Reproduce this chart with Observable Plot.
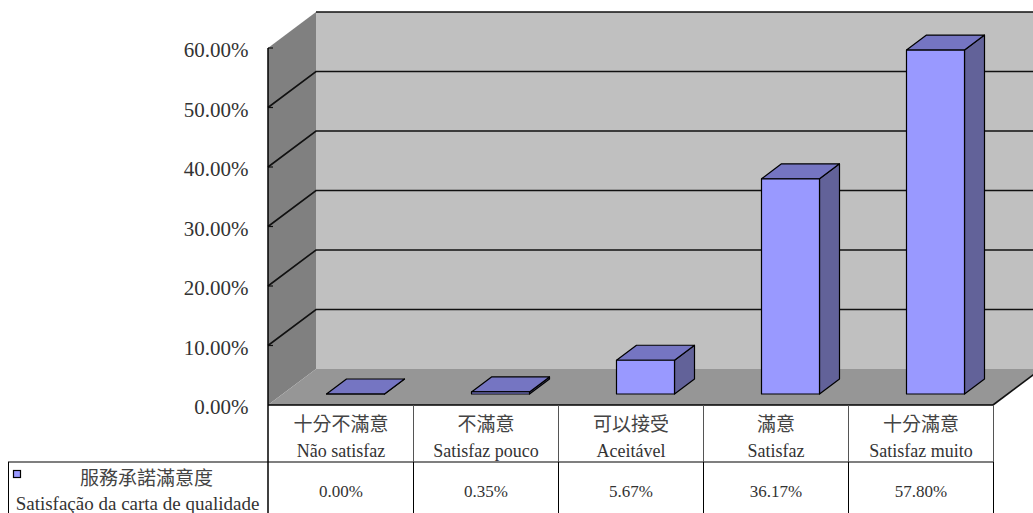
<!DOCTYPE html>
<html>
<head>
<meta charset="utf-8">
<script src="https://cdn.jsdelivr.net/npm/d3@7"></script>
<script src="https://cdn.jsdelivr.net/npm/@observablehq/plot@0.6"></script>
<style>
  html, body { margin: 0; padding: 0; background: #fff; }
</style>
</head>
<body>
<div id="chart"></div>
<script>
// Survey categories (Chinese / Portuguese) and share of answers per category
const categoriesZh = ["十分不滿意", "不滿意", "可以接受", "滿意", "十分滿意"];
const categoriesPt = ["Não satisfaz", "Satisfaz pouco", "Aceitável", "Satisfaz", "Satisfaz muito"];
const shares = [0.0000, 0.0035, 0.0567, 0.3617, 0.5780];
const yTicks = [0, 0.1, 0.2, 0.3, 0.4, 0.5, 0.6];
const seriesZh = "服務承諾滿意度";
const seriesPt = "Satisfação da carta de qualidade";

const rows = categoriesZh.map((zh, i) => ({ zh, pt: categoriesPt[i], value: shares[i] }));
const pct = d3.format(".2%");

// Oblique depth of the 3-D box and the slab in which the bars stand
const DEPTH = [48, -36];
const BAR_FRONT = [15, -11];
const BAR_BACK = [35, -26];
const BAR_FRAC = 0.4;

const SERIF = "'Liberation Serif', 'DejaVu Serif', serif";
const CJK = "'Noto Sans CJK TC', 'Noto Sans CJK SC', sans-serif";

function poly(g, pts, fill, stroke = "none", sw = 0) {
  g.append("path")
    .attr("d", "M" + pts.map(p => p.join(",")).join("L") + "Z")
    .attr("fill", fill)
    .attr("stroke", stroke)
    .attr("stroke-width", sw)
    .attr("stroke-linejoin", "round");
}
function seg(g, pts, stroke, sw) {
  g.append("path")
    .attr("d", "M" + pts.map(p => p.join(",")).join("L"))
    .attr("fill", "none")
    .attr("stroke", stroke)
    .attr("stroke-width", sw);
}
function bandStep(scales) {
  return scales.x(rows[1].zh) - scales.x(rows[0].zh);
}

// Back wall, side wall, floor and gridlines of the 3-D plot area
function walls(index, scales, values, dim) {
  const x0 = dim.marginLeft, x1 = dim.width - dim.marginRight;
  const y0 = scales.y(0), yT = scales.y(yTicks[yTicks.length - 1]);
  const [dx, dy] = DEPTH;
  const g = d3.create("svg:g");
  poly(g, [[x0 + dx, yT + dy], [x1 + dx, yT + dy], [x1 + dx, y0 + dy], [x0 + dx, y0 + dy]], "#c0c0c0");
  poly(g, [[x0, yT], [x0 + dx, yT + dy], [x0 + dx, y0 + dy], [x0, y0]], "#808080");
  poly(g, [[x0, y0], [x1, y0], [x1 + dx, y0 + dy], [x0 + dx, y0 + dy]], "#969696");
  for (const t of yTicks.slice(1)) {
    const y = scales.y(t);
    if (t === yTicks[yTicks.length - 1]) {
      seg(g, [[x0 + dx, y + dy], [x1 + dx, y + dy]], "#111", 1.6);
    } else {
      seg(g, [[x0, y], [x0 + dx, y + dy], [x1 + dx, y + dy]], "#111", 1.6);
    }
    seg(g, [[x0, y], [x0 + 5, y]], "#111", 1.2);
  }
  seg(g, [[x1, y0], [x1 + dx, y0 + dy]], "#111", 1.6);
  return g.node();
}

// Solid 3-D columns: front face, top face, right side face
function columns(index, scales, values, dim) {
  const step = bandStep(scales);
  const w = step * BAR_FRAC;
  const ox = BAR_BACK[0] - BAR_FRONT[0], oy = BAR_BACK[1] - BAR_FRONT[1];
  const g = d3.create("svg:g");
  for (const r of rows) {
    const left = scales.x(r.zh) + (step - w) / 2 + BAR_FRONT[0];
    const right = left + w;
    const base = scales.y(0) + BAR_FRONT[1];
    const top = scales.y(r.value) + BAR_FRONT[1];
    poly(g, [[right, top], [right + ox, top + oy], [right + ox, base + oy], [right, base]], "#626299", "#000", 1.2);
    poly(g, [[left, top], [left + ox, top + oy], [right + ox, top + oy], [right, top]], "#7575c2", "#000", 1.2);
    poly(g, [[left, top], [right, top], [right, base], [left, base]], "#9999ff", "#000", 1.2);
  }
  return g.node();
}

// Data-table grid under the plot, with the legend cell on the left
function tableGrid(index, scales, values, dim) {
  const x0 = dim.marginLeft, x1 = dim.width - dim.marginRight;
  const y0 = scales.y(0), yT = scales.y(yTicks[yTicks.length - 1]);
  const H = dim.height;
  const rowSplit = y0 + 57;
  const g = d3.create("svg:g");
  const step = bandStep(scales);
  seg(g, [[x0, y0], [x1, y0]], "#000", 1.5);
  seg(g, [[8, rowSplit], [x1, rowSplit]], "#000", 1.2);
  for (let i = 1; i <= rows.length; i++) {
    const x = Math.round(x0 + i * step) + 0.5;
    seg(g, [[x, y0], [x, rowSplit]], "#555", 1);
    seg(g, [[x, rowSplit], [x, H]], "#000", 1);
  }
  seg(g, [[x0, yT], [x0, H]], "#000", 1.5);
  seg(g, [[8.5, rowSplit], [8.5, H]], "#000", 1);
  g.append("rect")
    .attr("x", 13.5).attr("y", 470.5).attr("width", 7).attr("height", 7)
    .attr("fill", "#9999ff").attr("stroke", "#000").attr("stroke-width", 1.2);
  return g.node();
}

const chart = Plot.plot({
  width: 1033,
  height: 513,
  marginLeft: 268,
  marginRight: 40,
  marginTop: 48,
  marginBottom: 108,
  style: { background: "#fff", overflow: "visible" },
  x: { type: "band", domain: categoriesZh, padding: 0, align: 0.5, axis: null },
  y: { domain: [0, 0.6], axis: null },
  marks: [
    walls,
    columns,
    tableGrid,
    Plot.text(yTicks, {
      y: d => d, text: d => pct(d), frameAnchor: "left", textAnchor: "end",
      dx: -20, dy: 2, fontSize: 21, fontFamily: SERIF, fill: "#333"
    }),
    Plot.text(rows, {
      x: "zh", text: "zh", frameAnchor: "bottom", dy: 25,
      fontSize: 19, fontFamily: CJK, fill: "#444"
    }),
    Plot.text(rows, {
      x: "zh", text: "pt", frameAnchor: "bottom", dy: 51,
      fontSize: 18, fontFamily: SERIF, fill: "#333"
    }),
    Plot.text(rows, {
      x: "zh", text: d => pct(d.value), frameAnchor: "bottom", dy: 91,
      fontSize: 17, fontFamily: SERIF, fill: "#333"
    }),
    Plot.text([seriesZh], {
      text: d => d, frameAnchor: "bottom-left", textAnchor: "middle", dx: -122, dy: 79,
      fontSize: 19, fontFamily: CJK, fill: "#444"
    }),
    Plot.text([seriesPt], {
      text: d => d, frameAnchor: "bottom-left", textAnchor: "middle", dx: -131, dy: 104,
      fontSize: 19, fontFamily: SERIF, fill: "#333"
    })
  ]
});
document.getElementById("chart").append(chart);
</script>
</body>
</html>
